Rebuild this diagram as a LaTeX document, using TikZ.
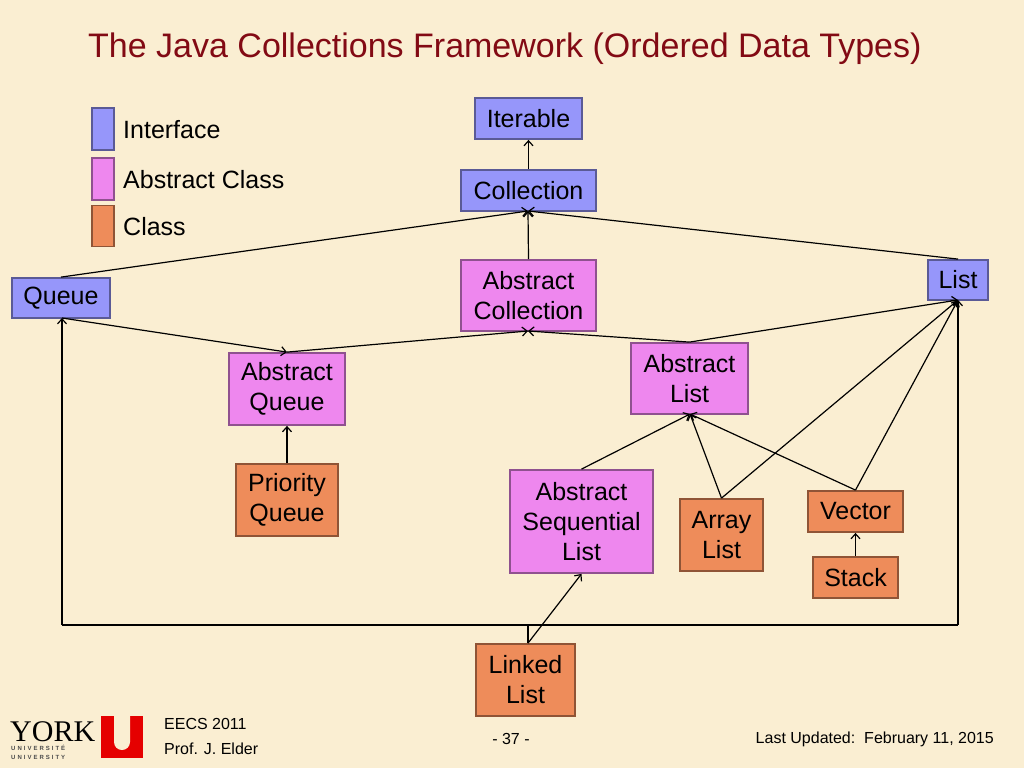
\documentclass[tikz,border=0pt]{standalone}
\usepackage{fontspec}
\setmainfont{Liberation Sans}
\usetikzlibrary{arrows.meta}
\definecolor{bg}{RGB}{250,238,210}
\definecolor{ifc}{RGB}{150,150,250}
\definecolor{abc}{RGB}{238,135,238}
\definecolor{clc}{RGB}{238,140,90}
\definecolor{ttl}{RGB}{130,10,20}
\begin{document}
\begin{tikzpicture}[x=1pt,y=-1pt,
  bx/.style={draw=#1!60!black,line width=1.8pt,inner sep=0pt,align=center,font=\fontsize{25}{30}\selectfont},
  ifb/.style={bx=ifc,fill=ifc},
  abb/.style={bx=abc,fill=abc},
  clb/.style={bx=clc,fill=clc},
  ar/.style={-{Straight Barb[length=5pt,width=9pt]},line width=1.2pt},
  ln/.style={line width=1.2pt}]
\fill[bg] (0,0) rectangle (1024,768);
\useasboundingbox (0,0) rectangle (1024,768);
\node[text=ttl,font=\fontsize{34}{40}\selectfont,anchor=west,inner sep=0pt] (title) at (88,49) {The Java Collections Framework (Ordered Data Types)};
% legend
\node[ifb,minimum width=22pt,minimum height=42pt] (l1) at (103,129) {};
\node[abb,minimum width=22pt,minimum height=42pt] (l2) at (103,179) {};
\node[clb,minimum width=22pt,minimum height=41pt] (l3) at (103,226) {};
\node[anchor=west,font=\fontsize{25}{28}\selectfont,inner sep=0pt] (t1) at (123,130) {Interface};
\node[anchor=west,font=\fontsize{25}{28}\selectfont,inner sep=0pt] (t2) at (123,180) {Abstract Class};
\node[anchor=west,font=\fontsize{25}{28}\selectfont,inner sep=0pt] (t3) at (123,227) {Class};
% nodes
\node[ifb,minimum width=107pt,minimum height=41pt] (it) at (528.5,118.5) {Iterable};
\node[ifb,minimum width=135pt,minimum height=41pt] (co) at (528.5,190.5) {Collection};
\node[abb,minimum width=135pt,minimum height=71pt] (ac) at (528.5,295.5) {Abstract\\Collection};
\node[ifb,minimum width=60pt,minimum height=40pt] (li) at (958,280) {List};
\node[ifb,minimum width=98pt,minimum height=40pt] (qu) at (61,298) {Queue};
\node[abb,minimum width=116pt,minimum height=72pt] (aq) at (287,389) {Abstract\\Queue};
\node[abb,minimum width=117pt,minimum height=71pt] (al) at (689.5,378.5) {Abstract\\List};
\node[clb,minimum width=102pt,minimum height=72pt] (pq) at (287,500) {Priority\\Queue};
\node[abb,minimum width=143pt,minimum height=103pt] (asl) at (581.5,521.5) {Abstract\\Sequential\\List};
\node[clb,minimum width=83pt,minimum height=72pt] (arl) at (721.5,535) {Array\\List};
\node[clb,minimum width=95pt,minimum height=41pt] (ve) at (855.5,511.5) {Vector};
\node[clb,minimum width=85pt,minimum height=41pt] (st) at (855.5,577.5) {Stack};
\node[clb,minimum width=99pt,minimum height=72pt] (ll) at (525.5,680) {Linked\\List};
% coordinates
\coordinate (cb) at (528,211);
\coordinate (acb) at (528,331);
\coordinate (alb) at (690,414);
\coordinate (lib) at (958,300);
\coordinate (qb) at (62,318);
\coordinate (bl) at (62,625);
\coordinate (br) at (958,625);
\coordinate (bm) at (528,625);
% edges
\draw[ar] (co.north) -- (it.south);
\draw[ar] (qu.north) -- (cb);
\draw[ar] (li.north) -- (cb);
\draw[ar] (ac.north) -- (cb);
\draw[ar] (qb) -- (aq.north);
\draw[ar] (aq.north) -- (acb);
\draw[ar] (al.north) -- (acb);
\draw[ar] (al.north) -- (lib);
\draw[ar] (pq.north) -- (aq.south);
\draw[ar] (asl.north) -- (alb);
\draw[ar] (arl.north) -- (alb);
\draw[ar] (ve.north) -- (alb);
\draw[ar] (arl.north) -- (lib);
\draw[ar] (ve.north) -- (lib);
\draw[ar] (st.north) -- (ve.south);
\draw[ar] (bl) -- (qb);
\draw[ar] (br) -- (lib);
\draw[ln] (bl) -- (br);
\draw[ln] (ll.north -| bm) -- (bm);
\draw[ar] (ll.north -| bm) -- (asl.south);
% footer
\node[font=\fontsize{30}{30}\selectfont,inner sep=0pt,anchor=base west] (york) at (10,741) {\fontspec{Liberation Serif}YORK};
\node[font=\fontsize{6}{6}\selectfont\bfseries,inner sep=0pt,anchor=west,text=black!70] (u1) at (11,748) {U\,\,N\,\,I\,\,V\,\,E\,\,R\,\,S\,\,I\,\,T\,\,É};
\node[font=\fontsize{6}{6}\selectfont\bfseries,inner sep=0pt,anchor=west,text=black!70] (u2) at (11,757) {U\,\,N\,\,I\,\,V\,\,E\,\,R\,\,S\,\,I\,\,T\,\,Y};
\fill[red!90!black] (101,716) rectangle (143,758);
\fill[bg] (114,716) rectangle (130,742) (122,742) circle (8pt);
\node[font=\fontsize{16}{20}\selectfont,anchor=west,inner sep=0pt] (f1) at (164,724) {EECS 2011};
\node[font=\fontsize{16}{20}\selectfont,anchor=west,inner sep=0pt] (f2) at (164,749) {Prof. J. Elder};
\node[font=\fontsize{16}{20}\selectfont,inner sep=0pt] (f3) at (511,739) {- 37 -};
\node[font=\fontsize{16}{20}\selectfont,anchor=east,inner sep=0pt] (f4) at (994,739) {Last Updated:\ \ February 11, 2015};
\end{tikzpicture}
\end{document}
